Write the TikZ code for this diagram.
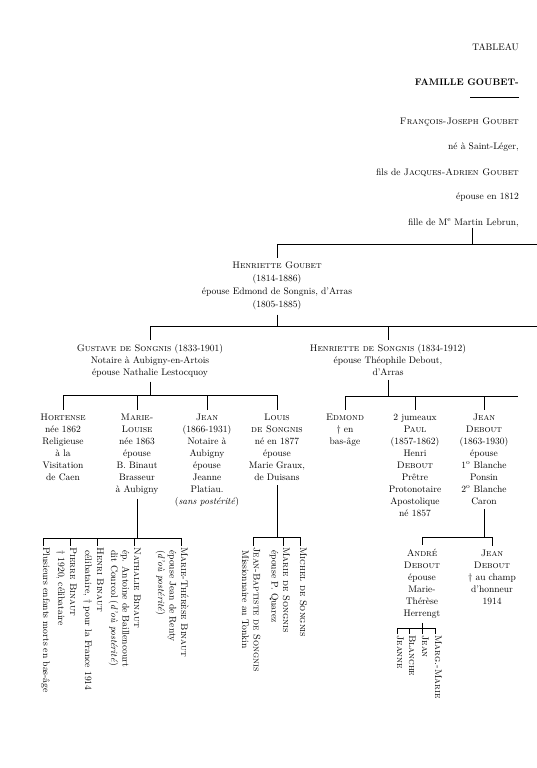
\documentclass[tikz,border=0pt]{standalone}
\usepackage{fontspec}
\usepackage{tikz}
\usetikzlibrary{positioning}

\begin{document}
\begin{tikzpicture}[x=1pt, y=-1pt, line width=0.5pt,
  t/.style={align=center, inner sep=0pt, anchor=north, font=\fontsize{9.5}{12}\selectfont},
  hd/.style={inner sep=0pt, font=\fontsize{9.5}{12}\selectfont},
  v/.style={rotate=-90, anchor=base west, inner sep=0pt, inner xsep=1pt, font=\fontsize{9.6}{10}\selectfont},
  tk/.style={shorten >=4pt}, dn/.style={shorten <=4pt}]
\useasboundingbox (0,0) rectangle (537,768);
% en-tete
\node[hd, anchor=base east] (tab) at (519,51) {TABLEAU};
\node[hd, below=34pt of tab.base east, anchor=base east] (fam) {\textbf{FAMILLE GOUBET-}};
\draw ([yshift=-12pt]fam.base east) -- ++(-49,0);
\node[hd, below=39pt of fam.base east, anchor=base east] (fj) {\textsc{François-Joseph Goubet}};
\node[hd, below=25.5pt of fj.base east, anchor=base east] (ne) {né à Saint-Léger,};
\node[hd, below=26pt of ne.base east, anchor=base east] (fils) {fils de \textsc{Jacques-Adrien Goubet}};
\node[hd, below=24pt of fils.base east, anchor=base east] (epo) {épouse en 1812};
\node[hd, below=26pt of epo.base east, anchor=base east] (fille) {fille de M\textsuperscript{e} Martin Lebrun,};
\coordinate (c0) at (472,244); \coordinate (r0) at (537,244);
\coordinate (r1) at (537,326); \coordinate (r2) at (0,395); \coordinate (r3) at (518,396);
\coordinate (r4) at (0,538); \coordinate (r5) at (0,537); \coordinate (r6) at (0,537); \coordinate (r7) at (0,628);
\draw (c0 |- fille.south) -- (c0);
% generations
\node[t, font=\fontsize{9.5}{13}\selectfont] (hg) at (277,262) {\textsc{Henriette Goubet}\\(1814-1886)\\épouse Edmond de Songnis, d'Arras\\(1805-1885)};
\draw (hg.north |- r0) -- (r0); \draw[tk] (hg.north |- r0) -- (hg.north);
\node[t] (gus) at (150,344) {\textsc{Gustave de Songnis} (1833-1901)\\Notaire à Aubigny-en-Artois\\épouse Nathalie Lestocquoy};
\node[t] (hds) at (388,344) {\textsc{Henriette de Songnis} (1834-1912)\\épouse Théophile Debout,\\d'Arras};
\draw[dn] (hg.south) -- (hg.south |- r1); \draw (gus.north |- r1) -- (r1);
\draw[tk] (gus.north |- r1) -- (gus.north); \draw[tk] (hds.north |- r1) -- (hds.north);
\node[t] (hor) at (63,414) {\textsc{Hortense}\\née 1862\\Religieuse\\à la\\Visitation\\de Caen};
\node[t] (ml) at (137,414) {\textsc{Marie-}\\\textsc{Louise}\\née 1863\\épouse\\B. Binaut\\Brasseur\\à Aubigny};
\node[t] (jea) at (207,414) {\textsc{Jean}\\(1866-1931)\\Notaire à\\Aubigny\\épouse\\Jeanne\\Platiau.\\(\textit{sans postérité})};
\node[t] (lou) at (277,414) {\textsc{Louis}\\\textsc{de Songnis}\\né en 1877\\épouse\\Marie Graux,\\de Duisans};
\draw[dn] (gus.south) -- (gus.south |- r2); \draw (hor.north |- r2) -- (lou.north |- r2);
\foreach \n in {hor,ml,jea,lou} \draw[tk] (\n.north |- r2) -- (\n.north);
\node[t] (edm) at (345,414) {\textsc{Edmond}\\\textdagger{} en\\bas-âge};
\node[t] (jum) at (415,414) {2 jumeaux\\\textsc{Paul}\\(1857-1862)\\Henri\\\textsc{Debout}\\Prêtre\\Protonotaire\\Apostolique\\né 1857};
\node[t] (jed) at (484,414) {\textsc{Jean}\\\textsc{Debout}\\(1863-1930)\\épouse\\1\textsuperscript{o} Blanche\\Ponsin\\2\textsuperscript{o} Blanche\\Caron};
\draw[dn] (hds.south) -- (hds.south |- r3); \draw (edm.north |- r3) -- (r3);
\foreach \n in {edm,jum,jed} \draw[tk] (\n.north |- r3) -- (\n.north);
\node[t] (and) at (422,549) {\textsc{André}\\\textsc{Debout}\\épouse\\Marie-\\Thérèse\\Herrengt};
\node[t] (jd) at (492,550) {\textsc{Jean}\\\textsc{Debout}\\\textdagger{} au champ\\d'honneur\\1914};
\draw[dn] (jed.south) -- (jed.south |- r6); \draw (and.north |- r6) -- (jd.north |- r6);
\foreach \n in {and,jd} \draw[tk] (\n.north |- r6) -- (\n.north);
% petits-enfants
\node[v] (pl) at (43,546) {Plusieurs enfants morts en bas-âge};
\node[v] (pb2) at (58,549) {\textdagger{} 1920, célibataire};
\node[v] (pb) at (70,546) {\textsc{Pierre Binaut}};
\node[v] (hb2) at (85,549) {célibataire, \textdagger{} pour la France 1914};
\node[v] (hb) at (97,546) {\textsc{Henri Binaut}};
\node[v] (nb3) at (111,549) {dit Courcol (\textit{d'où postérité})};
\node[v] (nb2) at (122.5,549) {ép. Antoine de Baillencourt};
\node[v] (nb) at (134,546) {\textsc{Nathalie Binaut}};
\node[v] (mt3) at (158,549) {(\textit{d'où postérité})};
\node[v] (mt2) at (169.5,549) {épouse Jean de Renty};
\node[v] (mt) at (181,546) {\textsc{Marie-Thérèse Binaut}};
\draw[dn] (ml.south) -- (ml.south |- r4); \draw (pl.base west |- r4) -- (mt.base west |- r4);
\foreach \n in {pl,pb,hb,nb,mt} \draw (\n.base west |- r4) -- (\n.base west);
\node[v] (jb2) at (242,549) {Missionnaire au Tonkin};
\node[v] (jb) at (253.5,546) {\textsc{Jean-Baptiste de Songnis}};
\node[v] (ma2) at (271.5,549) {épouse P. Quarez};
\node[v] (ma) at (283,546) {\textsc{Marie de Songnis}};
\node[v] (mi) at (300,546) {\textsc{Michel de Songnis}};
\draw[dn] (lou.south) -- (lou.south |- r5); \draw (jb.base west |- r5) -- (mi.base west |- r5);
\foreach \n in {jb,ma,mi} \draw (\n.base west |- r5) -- (\n.base west);
\node[v] (jn) at (397,634) {\textsc{Jeanne}};
\node[v] (bl) at (409,634) {\textsc{Blanche}};
\node[v] (je) at (422,634) {\textsc{Jean}};
\node[v] (mm) at (435,634) {\textsc{Marg.-Marie}};
\draw[dn] (and.south) -- (and.south |- r7); \draw (jn.base west |- r7) -- (mm.base west |- r7);
\foreach \n in {jn,bl,je,mm} \draw (\n.base west |- r7) -- (\n.base west);
\end{tikzpicture}
\end{document}
